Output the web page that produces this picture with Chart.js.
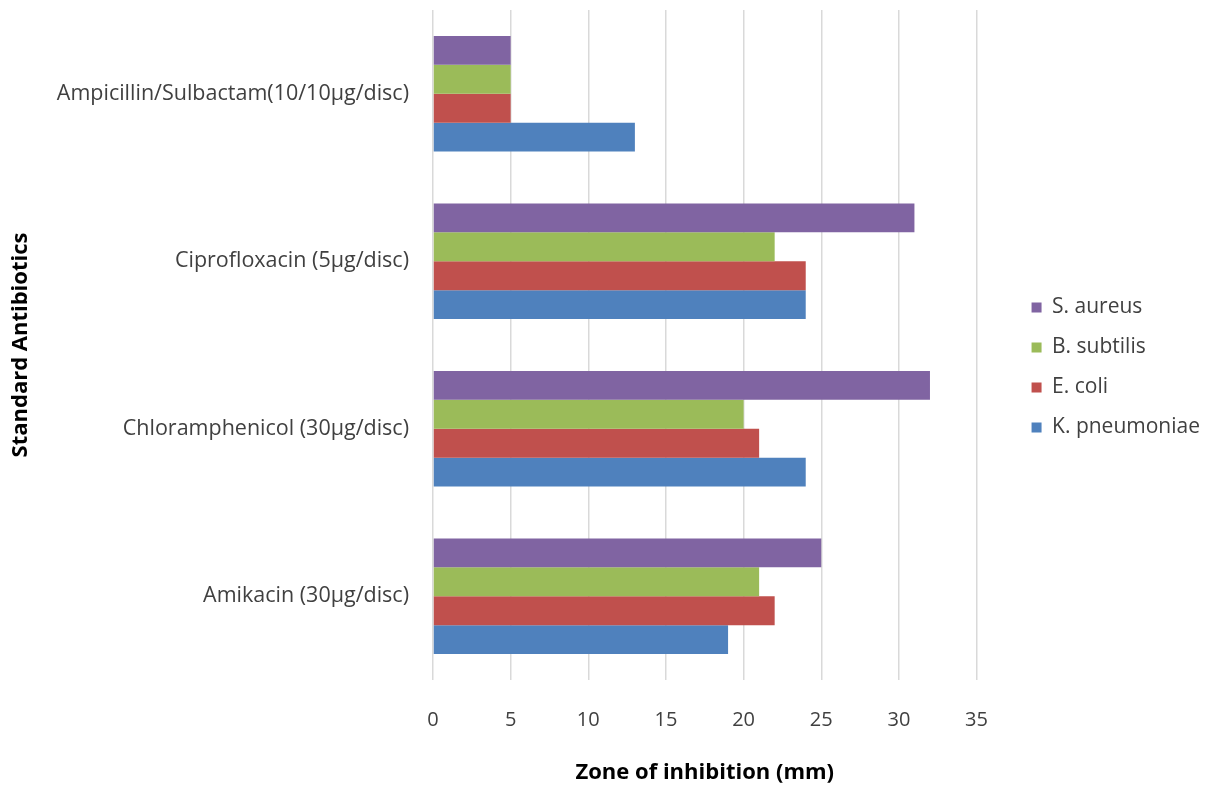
<!DOCTYPE html>
<html>
<head>
    <title>Zone of inhibition - standard antibiotics</title>
    <script src="https://cdn.jsdelivr.net/npm/chart.js"></script>
    <style>
        html, body { margin: 0; padding: 0; background: #fff; }
        .chart-container { width: 1210px; height: 788px; }
    </style>
</head>
<body>
    <div class="chart-container">
        <canvas id="zoneChart"></canvas>
    </div>

    <script>
        const antibiotics = [
            'Ampicillin/Sulbactam(10/10\u00b5g/disc)',
            'Ciprofloxacin (5\u00b5g/disc)',
            'Chloramphenicol (30\u00b5g/disc)',
            'Amikacin (30\u00b5g/disc)'
        ];
        const sAureus = [5, 31, 32, 25];
        const bSubtilis = [5, 22, 20, 21];
        const eColi = [5, 24, 21, 22];
        const kPneumoniae = [13, 24, 24, 19];
        const xTicks = [0, 5, 10, 15, 20, 25, 30, 35];

        const font = 'Open Sans';

        new Chart(document.getElementById('zoneChart'), {
            type: 'bar',
            data: {
                labels: antibiotics,
                datasets: [
                    { label: 'S. aureus', data: sAureus, backgroundColor: '#8064A2' },
                    { label: 'B. subtilis', data: bSubtilis, backgroundColor: '#9BBB59' },
                    { label: 'E. coli', data: eColi, backgroundColor: '#C0504D' },
                    { label: 'K. pneumoniae', data: kPneumoniae, backgroundColor: '#4F81BD' }
                ]
            },
            options: {
                indexAxis: 'y',
                responsive: true,
                maintainAspectRatio: false,
                animation: false,
                categoryPercentage: 0.69,
                barPercentage: 1.0,
                layout: { padding: { left: 6, top: 10, right: 0, bottom: 2 } },
                plugins: {
                    legend: {
                        position: 'right',
                        fullSize: false,
                        // blank title only pushes the entries down a little
                        title: {
                            display: true,
                            text: '',
                            padding: { top: 33, bottom: 0 },
                            font: { size: 10 }
                        },
                        labels: {
                            boxWidth: 10,
                            boxHeight: 10,
                            padding: 19,
                            color: '#404040',
                            font: { family: font, size: 21 }
                        }
                    },
                    tooltip: { enabled: false }
                },
                scales: {
                    x: {
                        min: 0,
                        max: 35,
                        afterBuildTicks: scale => {
                            scale.ticks = xTicks.map(v => ({ value: v }));
                        },
                        afterFit: scale => {
                            scale.height = 106;
                        },
                        grid: { color: '#d9d9d9', lineWidth: 1.5, drawTicks: false },
                        border: { display: false },
                        ticks: {
                            padding: 28,
                            color: '#404040',
                            font: { family: font, size: 20 }
                        },
                        title: {
                            display: true,
                            text: 'Zone of inhibition (mm)',
                            color: '#000',
                            padding: { top: 26, bottom: 0 },
                            font: { family: font, size: 22, weight: 'bold' }
                        }
                    },
                    y: {
                        // long category names need more room than the default cap
                        afterFit: scale => {
                            scale.width = 427;
                            scale.paddingTop = 0;
                            scale.paddingBottom = 0;
                        },
                        grid: { display: false },
                        border: { display: false },
                        ticks: {
                            padding: 16,
                            color: '#404040',
                            font: { family: font, size: 21.5 }
                        },
                        title: {
                            display: true,
                            text: 'Standard Antibiotics',
                            color: '#000',
                            padding: { top: 2, bottom: 0 },
                            font: { family: font, size: 22, weight: 'bold' }
                        }
                    },
                    // empty axis used as a gap between the plot and the legend
                    gap: {
                        type: 'category',
                        axis: 'y',
                        position: 'right',
                        afterFit: scale => {
                            scale.width = 36;
                            scale.paddingTop = 0;
                            scale.paddingBottom = 0;
                        },
                        grid: { display: false },
                        border: { display: false },
                        ticks: { display: false }
                    }
                }
            }
        });
    </script>
</body>
</html>
